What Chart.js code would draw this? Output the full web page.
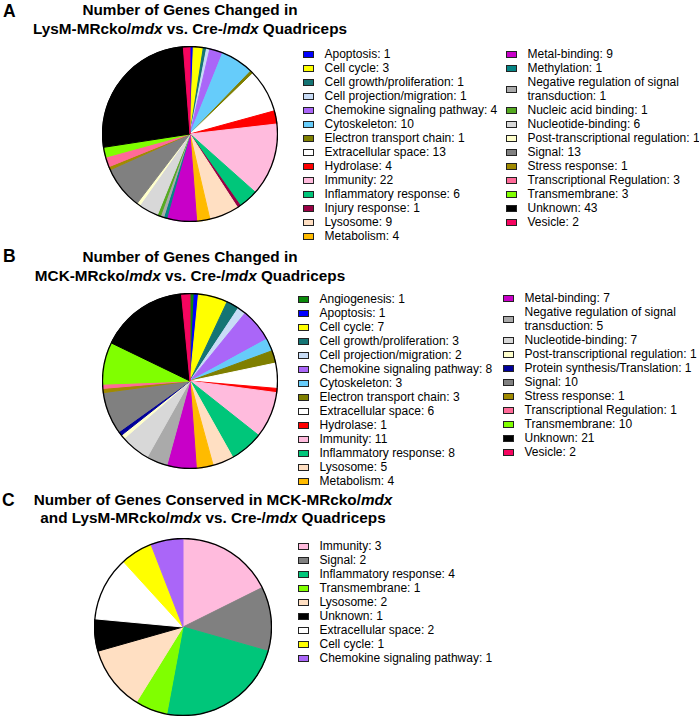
<!DOCTYPE html>
<html lang="en">
<head>
<meta charset="UTF-8">
<title>Genes Changed in Quadriceps</title>
<script src="https://cdn.jsdelivr.net/npm/chart.js"></script>
<style>
    body { margin: 0; width: 699px; height: 718px; overflow: hidden; background: #fff; position: relative;
           font-family: "Liberation Sans", Arial, sans-serif; color: #000; }
    .letter { position: absolute; font-weight: bold; font-size: 17.5px; line-height: 20px; }
    .title { position: absolute; font-weight: bold; font-size: 15.3px; line-height: 19px; text-align: center;
             white-space: nowrap; transform: translateX(-50%); }
    .legend { position: absolute; font-size: 12px; line-height: 14px; }
    .row { display: flex; align-items: center; width: 195px; }
    .box { width: 9px; height: 5px; border: 1px solid #222; margin-right: 10.5px; flex: none; }
    canvas { position: absolute; }
</style>
</head>
<body>
    <div class="letter" style="left:3px; top:1px;">A</div>
    <div class="title" style="left:190px; top:0px;">Number of Genes Changed in<br>LysM-MRcko/<i>mdx</i> vs. Cre-/<i>mdx</i> Quadriceps</div>
    <canvas id="pieA" width="176" height="176" style="left:102px; top:46px;"></canvas>
    <div class="legend" id="legA1" style="left:303px; top:47px;"></div>
    <div class="legend" id="legA2" style="left:506px; top:47px;"></div>

    <div class="letter" style="left:3px; top:246px;">B</div>
    <div class="title" style="left:190px; top:247px;">Number of Genes Changed in<br>MCK-MRcko/<i>mdx</i> vs. Cre-/<i>mdx</i> Quadriceps</div>
    <canvas id="pieB" width="176" height="176" style="left:101.5px; top:292.5px;"></canvas>
    <div class="legend" id="legB1" style="left:298px; top:292px;"></div>
    <div class="legend" id="legB2" style="left:503px; top:291px;"></div>

    <div class="letter" style="left:2px; top:490px;">C</div>
    <div class="title" style="left:213px; top:491px; line-height:18px;">Number of Genes Conserved in MCK-MRcko/<i>mdx</i><br>and LysM-MRcko/<i>mdx</i> vs. Cre-/<i>mdx</i> Quadriceps</div>
    <canvas id="pieC" width="178" height="178" style="left:94.3px; top:537.5px;"></canvas>
    <div class="legend" id="legC" style="left:298px; top:539px;"></div>

    <script>
        // Panel A: LysM-MRcko/mdx vs Cre-/mdx
        const labelsA = ['Apoptosis', 'Cell cycle', 'Cell growth/proliferation', 'Cell projection/migration',
            'Chemokine signaling pathway', 'Cytoskeleton', 'Electron transport chain', 'Extracellular space',
            'Hydrolase', 'Immunity', 'Inflammatory response', 'Injury response', 'Lysosome', 'Metabolism',
            'Metal-binding', 'Methylation', 'Negative regulation of signal transduction', 'Nucleic acid binding',
            'Nucleotide-binding', 'Post-transcriptional regulation', 'Signal', 'Stress response',
            'Transcriptional Regulation', 'Transmembrane', 'Unknown', 'Vesicle'];
        const valuesA = [1, 3, 1, 1, 4, 10, 1, 13, 4, 22, 6, 1, 9, 4, 9, 1, 1, 1, 6, 1, 13, 1, 3, 3, 43, 2];

        // Panel B: MCK-MRcko/mdx vs Cre-/mdx
        const labelsB = ['Angiogenesis', 'Apoptosis', 'Cell cycle', 'Cell growth/proliferation',
            'Cell projection/migration', 'Chemokine signaling pathway', 'Cytoskeleton', 'Electron transport chain',
            'Extracellular space', 'Hydrolase', 'Immunity', 'Inflammatory response', 'Lysosome', 'Metabolism',
            'Metal-binding', 'Negative regulation of signal transduction', 'Nucleotide-binding',
            'Post-transcriptional regulation', 'Protein synthesis/Translation', 'Signal', 'Stress response',
            'Transcriptional Regulation', 'Transmembrane', 'Unknown', 'Vesicle'];
        const valuesB = [1, 1, 7, 3, 2, 8, 3, 3, 6, 1, 11, 8, 5, 4, 7, 5, 7, 1, 1, 10, 1, 1, 10, 21, 2];

        // Panel C: conserved in both
        const labelsC = ['Immunity', 'Signal', 'Inflammatory response', 'Transmembrane', 'Lysosome', 'Unknown',
            'Extracellular space', 'Cell cycle', 'Chemokine signaling pathway'];
        const valuesC = [3, 2, 4, 1, 2, 1, 2, 1, 1];

        // one colour per category, shared by all three panels
        const colours = {
            'Angiogenesis': '#0b8a0b',
            'Apoptosis': '#0000ff',
            'Cell cycle': '#ffff00',
            'Cell growth/proliferation': '#147474',
            'Cell projection/migration': '#c8dcf6',
            'Chemokine signaling pathway': '#aa66f8',
            'Cytoskeleton': '#66ccfa',
            'Electron transport chain': '#7f7f00',
            'Extracellular space': '#ffffff',
            'Hydrolase': '#ff0000',
            'Immunity': '#ffbbdd',
            'Inflammatory response': '#00c67a',
            'Injury response': '#990044',
            'Lysosome': '#ffdfc2',
            'Metabolism': '#ffbb00',
            'Metal-binding': '#c800c8',
            'Methylation': '#058585',
            'Negative regulation of signal transduction': '#aaaaaa',
            'Nucleic acid binding': '#55aa20',
            'Nucleotide-binding': '#d8d8d8',
            'Post-transcriptional regulation': '#ffffcc',
            'Protein synthesis/Translation': '#00009a',
            'Signal': '#808080',
            'Stress response': '#a08a00',
            'Transcriptional Regulation': '#ff6a98',
            'Transmembrane': '#80ff00',
            'Unknown': '#000000',
            'Vesicle': '#f5055f'
        };

        // black ring round the pie, no lines between slices
        const outline = {
            id: 'outline',
            afterDatasetsDraw(chart) {
                const arc = chart.getDatasetMeta(0).data[0];
                if (!arc) return;
                const c = chart.ctx;
                c.save();
                c.beginPath();
                c.arc(arc.x, arc.y, arc.outerRadius, 0, Math.PI * 2);
                c.lineWidth = 1.3;
                c.strokeStyle = '#000';
                c.stroke();
                c.restore();
            }
        };

        function makePie(id, labels, values) {
            const cols = labels.map(l => colours[l]);
            return new Chart(document.getElementById(id), {
                type: 'pie',
                data: {
                    labels: labels,
                    datasets: [{ data: values, backgroundColor: cols, borderColor: cols, borderWidth: 1 }]
                },
                options: {
                    responsive: false,
                    animation: false,
                    layout: { padding: 0 },
                    plugins: { legend: { display: false }, tooltip: { enabled: false } }
                },
                plugins: [outline]
            });
        }

        function fillLegend(id, labels, values) {
            const el = document.getElementById(id);
            labels.forEach((l, i) => {
                const row = document.createElement('div');
                row.className = 'row';
                const box = document.createElement('span');
                box.className = 'box';
                box.style.background = colours[l];
                const txt = document.createElement('span');
                txt.textContent = l + ': ' + values[i];
                row.appendChild(box);
                row.appendChild(txt);
                el.appendChild(row);
            });
        }

        makePie('pieA', labelsA, valuesA);
        makePie('pieB', labelsB, valuesB);
        makePie('pieC', labelsC, valuesC);

        fillLegend('legA1', labelsA.slice(0, 14), valuesA.slice(0, 14));
        fillLegend('legA2', labelsA.slice(14), valuesA.slice(14));
        fillLegend('legB1', labelsB.slice(0, 14), valuesB.slice(0, 14));
        fillLegend('legB2', labelsB.slice(14), valuesB.slice(14));
        fillLegend('legC', labelsC, valuesC);
    </script>
</body>
</html>
